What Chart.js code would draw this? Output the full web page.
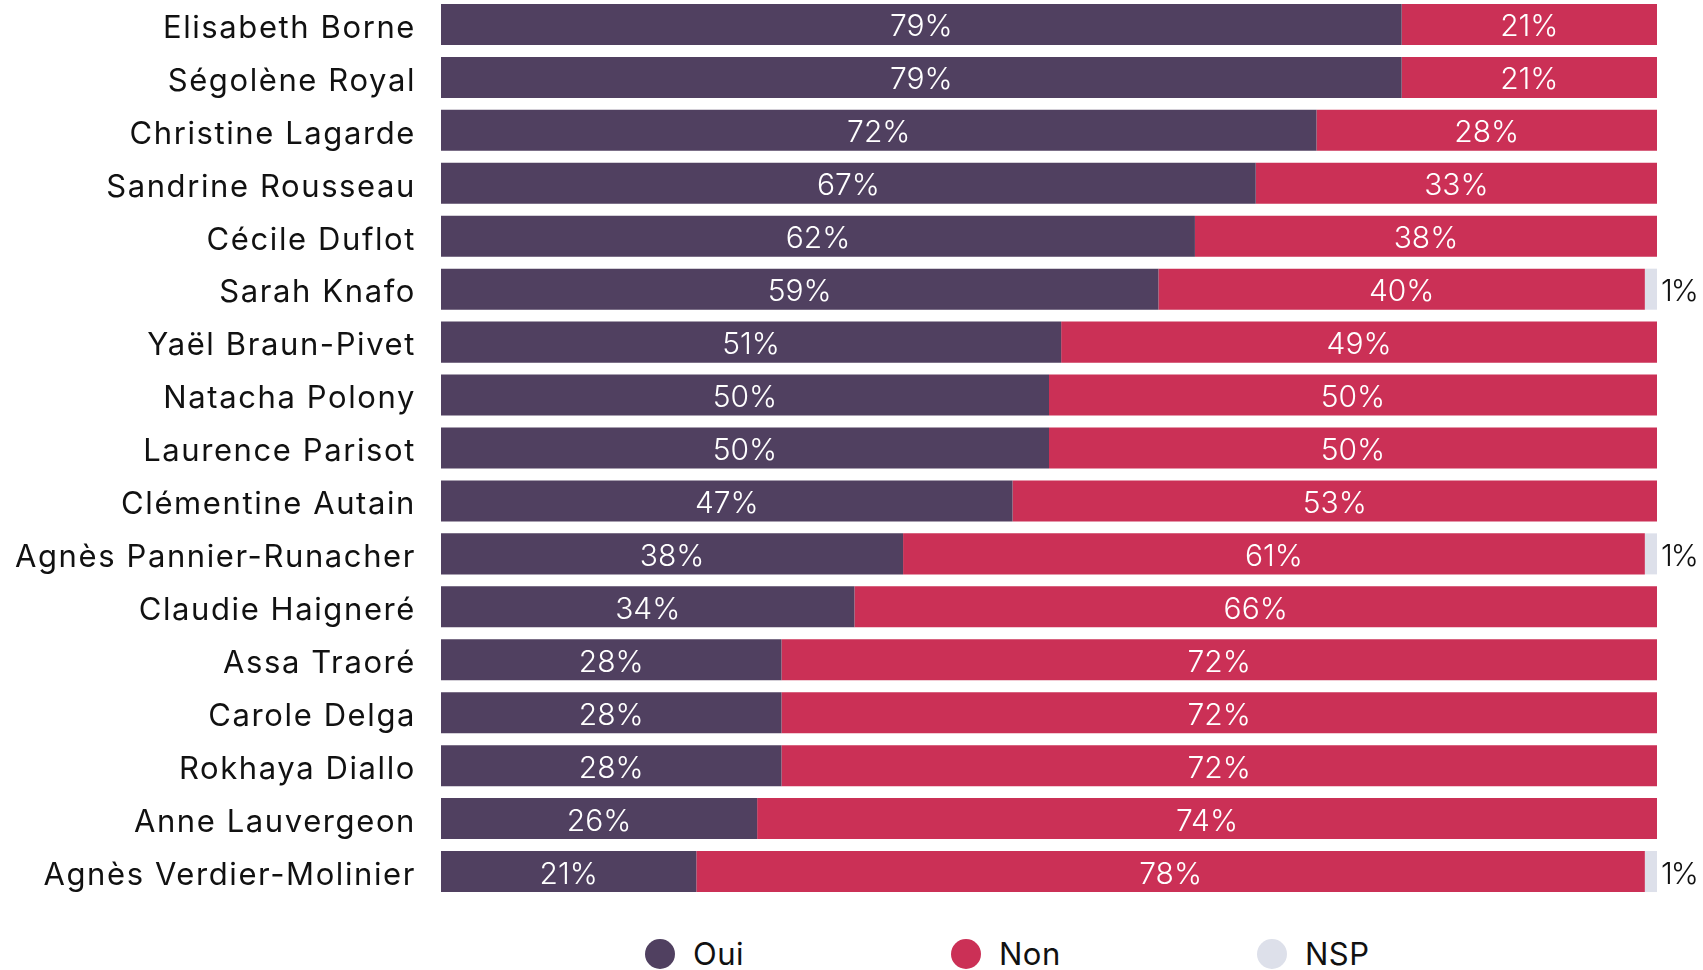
<!DOCTYPE html>
<html>
<head>
<meta charset="utf-8">
<script src="https://cdn.jsdelivr.net/npm/chart.js@4"></script>
<style>
  html, body { margin: 0; padding: 0; background: #fff; }
  body { width: 1703px; height: 970px; position: relative; overflow: hidden; font-family: Inter, sans-serif; }
  #wrap { position: absolute; left: 0; top: -2px; width: 1703px; height: 900px; }
  #legend { position: absolute; left: 0; top: 935px; width: 1703px; height: 40px; }
  .item { position: absolute; top: 0; display: flex; align-items: center; font-size: 31px; color: #111; letter-spacing: 0.5px; }
  .dot { width: 30px; height: 30px; border-radius: 50%; margin-right: 18px; }
</style>
</head>
<body>
<div id="wrap"><canvas id="chart"></canvas></div>
<div id="legend"></div>
<script>
const names = [
  'Elisabeth Borne', 'Ségolène Royal', 'Christine Lagarde', 'Sandrine Rousseau',
  'Cécile Duflot', 'Sarah Knafo', 'Yaël Braun-Pivet', 'Natacha Polony',
  'Laurence Parisot', 'Clémentine Autain', 'Agnès Pannier-Runacher', 'Claudie Haigneré',
  'Assa Traoré', 'Carole Delga', 'Rokhaya Diallo', 'Anne Lauvergeon', 'Agnès Verdier-Molinier'
];
const oui = [79, 79, 72, 67, 62, 59, 51, 50, 50, 47, 38, 34, 28, 28, 28, 26, 21];
const non = [21, 21, 28, 33, 38, 40, 49, 50, 50, 53, 61, 66, 72, 72, 72, 74, 78];
const nsp = [0, 0, 0, 0, 0, 1, 0, 0, 0, 0, 1, 0, 0, 0, 0, 0, 1];

const seriesNames = ['Oui', 'Non', 'NSP'];
const colors = ['#504060', '#cb3056', '#dde0ea'];
const legendX = [645, 951, 1257];

// wider tracking for the name labels (the original font is wider than Inter)
const labelSpacing = {
  id: 'labelSpacing',
  beforeDraw(chart) { chart.ctx.letterSpacing = '1.6px'; },
  beforeDatasetsDraw(chart) { chart.ctx.letterSpacing = '0px'; }
};

// % labels: white centred in Oui/Non, dark outside for the small NSP piece
const valueLabels = {
  id: 'valueLabels',
  afterDatasetsDraw(chart) {
    const ctx = chart.ctx;
    ctx.save();
    ctx.font = '300 30px Inter';
    ctx.textBaseline = 'middle';
    chart.data.datasets.forEach((ds, i) => {
      const meta = chart.getDatasetMeta(i);
      meta.data.forEach((bar, j) => {
        const v = ds.data[j];
        if (!v) return;
        if (i === 2) {
          ctx.fillStyle = '#111';
          ctx.textAlign = 'left';
          ctx.letterSpacing = '-2px';
          ctx.fillText(v + '%', bar.x + 4, bar.y + 3);
          ctx.letterSpacing = '0px';
        } else {
          ctx.fillStyle = '#fff';
          ctx.textAlign = 'center';
          ctx.fillText(v + '%', (bar.base + bar.x) / 2, bar.y + 3);
        }
      });
    });
    ctx.restore();
  }
};

new Chart(document.getElementById('chart'), {
  type: 'bar',
  data: {
    labels: names,
    datasets: [
      { label: seriesNames[0], data: oui, backgroundColor: colors[0] },
      { label: seriesNames[1], data: non, backgroundColor: colors[1] },
      { label: seriesNames[2], data: nsp, backgroundColor: colors[2] }
    ]
  },
  options: {
    indexAxis: 'y',
    responsive: true,
    maintainAspectRatio: false,
    animation: false,
    layout: { padding: { left: 0, right: 46, top: 0, bottom: 0 } },
    datasets: { bar: { categoryPercentage: 0.775, barPercentage: 1, borderWidth: 0 } },
    scales: {
      x: { stacked: true, min: 0, max: 100, display: false },
      y: {
        stacked: true,
        grid: { display: false },
        border: { display: false },
        ticks: { color: '#111', padding: 17, labelOffset: 4, font: { family: 'Inter', size: 31 } },
        afterFit(scale) {
          scale.width = 441;
          scale.paddingTop = 0;
          scale.paddingBottom = 0;
        }
      }
    },
    plugins: {
      legend: { display: false },
      tooltip: { enabled: false }
    }
  },
  plugins: [labelSpacing, valueLabels]
});

const legend = document.getElementById('legend');
seriesNames.forEach((name, i) => {
  const el = document.createElement('div');
  el.className = 'item';
  el.style.left = legendX[i] + 'px';
  el.innerHTML = `<span class="dot" style="background:${colors[i]}"></span>${name}`;
  legend.appendChild(el);
});
</script>
</body>
</html>
